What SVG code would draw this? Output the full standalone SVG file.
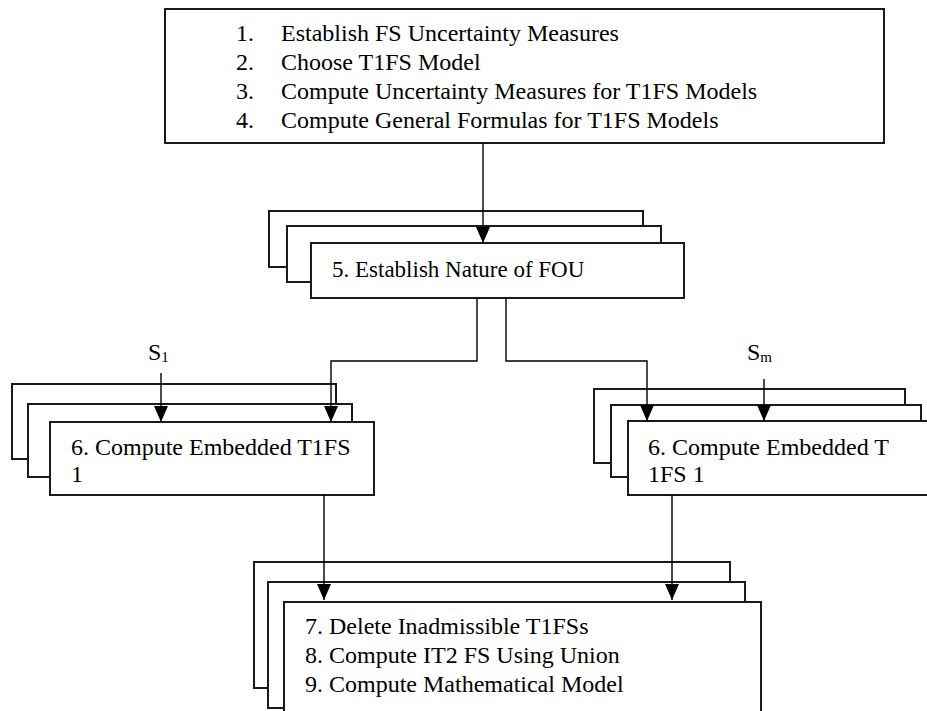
<svg xmlns="http://www.w3.org/2000/svg" width="927" height="711" viewBox="0 0 927 711">
  <style>
    .box { fill: #ffffff; stroke: #1a1a1a; stroke-width: 2; }
    text { font-family: 'Liberation Serif', 'DejaVu Serif', serif; fill: #000000; }
    .txt { font-size: 24px; }
    .gar { font-size: 23px; }
    .wire { fill: none; stroke: #000000; stroke-width: 1.4; }
  </style>
  <defs>
    <marker id="head" markerUnits="userSpaceOnUse" viewBox="0 0 16 14" markerWidth="16" markerHeight="14" refX="16" refY="7" orient="auto">
      <path d="M0,0 L16,7 L0,14 z" fill="#000000"/>
    </marker>
  </defs>
  <rect width="927" height="711" fill="#ffffff"/>

  <!-- steps 1-4 -->
  <g id="node-steps-1-4">
    <rect class="box" x="165" y="9" width="719" height="134"/>
    <text class="txt" x="236" y="41">1.</text>
    <text class="txt" x="281" y="41">Establish FS Uncertainty Measures</text>
    <text class="txt" x="236" y="70">2.</text>
    <text class="txt" x="281" y="70">Choose T1FS Model</text>
    <text class="txt" x="236" y="99">3.</text>
    <text class="txt" x="281" y="99">Compute Uncertainty Measures for T1FS Models</text>
    <text class="txt" x="236" y="128">4.</text>
    <text class="txt" x="281" y="128">Compute General Formulas for T1FS Models</text>
  </g>

  <!-- step 5, stacked -->
  <g id="node-step-5">
    <rect class="box" x="269" y="211" width="374" height="56"/>
    <rect class="box" x="287" y="226" width="374" height="56"/>
    <rect class="box" x="311" y="243" width="373" height="55"/>
    <text class="gar" x="332" y="277">5. Establish Nature of FOU</text>
  </g>

  <!-- step 6, left stack -->
  <g id="node-step-6-left">
    <rect class="box" x="12" y="384" width="324" height="75"/>
    <rect class="box" x="28" y="404" width="324" height="73"/>
    <rect class="box" x="50" y="422" width="324" height="73"/>
    <text class="txt" x="71" y="455">6. Compute Embedded T1FS</text>
    <text class="txt" x="71" y="482">1</text>
  </g>

  <!-- step 6, right stack -->
  <g id="node-step-6-right">
    <rect class="box" x="594" y="389" width="311" height="74"/>
    <rect class="box" x="611" y="405" width="310" height="72"/>
    <rect class="box" x="628" y="421" width="312" height="74"/>
    <text class="txt" x="648" y="455">6. Compute Embedded T</text>
    <text class="txt" x="648" y="482">1FS 1</text>
  </g>

  <!-- steps 7-9, stacked -->
  <g id="node-steps-7-9">
    <rect class="box" x="254" y="562" width="476" height="126"/>
    <rect class="box" x="268" y="582" width="477" height="126"/>
    <rect class="box" x="284" y="602" width="477" height="130"/>
    <text class="txt" x="305" y="634">7. Delete Inadmissible T1FSs</text>
    <text class="txt" x="305" y="663">8. Compute IT2 FS Using Union</text>
    <text class="txt" x="305" y="692">9. Compute Mathematical Model</text>
  </g>

  <!-- input labels -->
  <g id="label-s1">
    <text class="txt" x="148" y="360">S<tspan font-size="15" dy="2">1</tspan></text>
  </g>
  <g id="label-sm">
    <text class="txt" x="747" y="360">S<tspan font-size="15" dy="2">m</tspan></text>
  </g>

  <!-- connectors -->
  <g id="connectors">
    <path class="wire" d="M483,143 V243" marker-end="url(#head)"/>
    <path class="wire" d="M477,298 V361 H331 V422" marker-end="url(#head)"/>
    <path class="wire" d="M506,298 V361 H647 V421" marker-end="url(#head)"/>
    <path class="wire" d="M161,373 V422" marker-end="url(#head)"/>
    <path class="wire" d="M764,379 V421" marker-end="url(#head)"/>
    <path class="wire" d="M324,495 V600" marker-end="url(#head)"/>
    <path class="wire" d="M672,495 V600" marker-end="url(#head)"/>
  </g>
</svg>
